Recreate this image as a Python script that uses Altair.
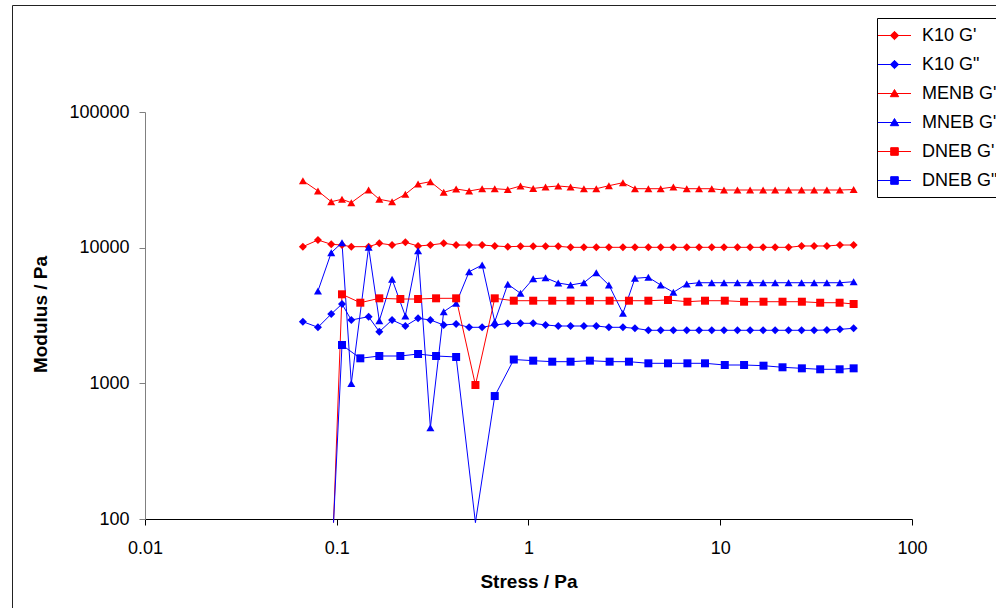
import altair as alt
import pandas as pd

FONT = "Liberation Sans"

series_names = ["K10 G'", 'K10 G"', "MENB G'", 'MNEB G"', "DNEB G'", 'DNEB G"']
series_colors = ["#FF0000", "#0000FF", "#FF0000", "#0000FF", "#FF0000", "#0000FF"]
series_markers = ["diamond", "diamond", "triangle-up", "triangle-up", "square", "square"]

# stress grid shared by K10 and MENB/MNEB runs (Pa)
stress_km = [0.0666, 0.0798, 0.0936, 0.1065, 0.1191, 0.1466, 0.1667, 0.1943, 0.2279, 0.2655,
             0.3078, 0.3612, 0.4194, 0.4902, 0.5731, 0.6668, 0.7798, 0.9084, 1.058, 1.227,
             1.429, 1.657, 1.945, 2.257, 2.626, 3.108, 3.591, 4.218, 4.891, 5.696,
             6.687, 7.751, 9.029, 10.46, 12.29, 14.31, 16.73, 19.33, 22.71, 26.55,
             30.88, 35.98, 42.07, 49.62]

k10_g1 = [10170, 11390, 10590, 10460, 10170, 10170, 10770, 10460, 10950, 10290,
          10460, 10770, 10460, 10460, 10460, 10290, 10170, 10230, 10230, 10230,
          10230, 10060, 10060, 10060, 10060, 10060, 10060, 10060, 10060, 10060,
          10060, 10060, 10060, 10060, 10060, 10060, 10060, 10060, 10060, 10290,
          10290, 10290, 10460, 10460]

k10_g2 = [2847, 2588, 3243, 3843, 2930, 3098, 2402, 2930, 2646, 3016,
          2930, 2692, 2737, 2588, 2588, 2692, 2760, 2770, 2770, 2692,
          2646, 2646, 2646, 2646, 2588, 2588, 2545, 2460, 2460, 2460,
          2460, 2460, 2460, 2460, 2460, 2460, 2460, 2460, 2460, 2460,
          2460, 2473, 2500, 2545]

menb_g1 = [31160, 26170, 21820, 22730, 21450, 26610, 22730, 21820, 24740, 29460,
           30640, 25590, 27060, 26170, 27200, 27200, 26800, 28480, 27330, 28000,
           28480, 28000, 27200, 27200, 28620, 30120, 27200, 27200, 27200, 28000,
           27200, 27200, 27200, 26610, 26610, 26610, 26610, 26610, 26610, 26610,
           26610, 26610, 26610, 26800]

mneb_g2 = [None, 4793, 9183, 10880, 997, 10060, 2894, 5846, 3135, 9498,
           471, 3373, 3890, 6650, 7451, 2847, 5379, 4608, 5896, 5996,
           5489, 5305, 5516, 6537, 5305, 3283, 5946, 6047, 5305, 4688,
           5398, 5516, 5516, 5516, 5516, 5516, 5516, 5516, 5516, 5516,
           5516, 5516, 5516, 5611]

# stress grid of the DNEB run (Pa)
stress_d = [0.0962, 0.1065, 0.1327, 0.1667, 0.2146, 0.2655, 0.3296, 0.4194, 0.5287, 0.6668,
            0.8380, 1.058, 1.330, 1.657, 2.090, 2.649, 3.341, 4.218, 5.339, 6.742,
            8.329, 10.56, 13.31, 16.81, 21.12, 26.65, 33.20, 41.93, 49.62]

# 94 = off-scale readings below the axis minimum
dneb_g1 = [94, 4531, 3929, 4233, 4183, 4183, 4233, 4233, 972, 4233,
           4065, 4065, 4065, 4065, 4065, 4065, 4065, 4065, 4114, 3996,
           4065, 4065, 3996, 3996, 3996, 3996, 3929, 3929, 3843]

dneb_g2 = [94, 1917, 1529, 1590, 1590, 1645, 1590, 1564, 94, 806,
           1498, 1469, 1444, 1444, 1469, 1444, 1444, 1405, 1405, 1405,
           1405, 1365, 1365, 1349, 1313, 1290, 1269, 1269, 1290]

series_x = [stress_km, stress_km, stress_km, stress_km, stress_d, stress_d]
series_y = [k10_g1, k10_g2, menb_g1, mneb_g2, dneb_g1, dneb_g2]

rows = []
for name, col, marker, xs, ys in zip(series_names, series_colors, series_markers, series_x, series_y):
    for xv, yv in zip(xs, ys):
        if yv is not None:
            rows.append({"series": name, "col": col, "marker": marker, "stress": xv, "modulus": yv})
df = pd.DataFrame(rows)

# legend symbols: a short line with the marker on it (custom SVG paths)
LINE = "M-1.65,0H1.65"
legend_paths = {
    "diamond": LINE + "M-0.42,0L0,-0.42L0.42,0L0,0.42Z",
    "triangle-up": LINE + "M0,-0.4L-0.42,0.32L0.42,0.32Z",
    "square": LINE + "M-0.38,-0.38H0.38V0.38H-0.38Z",
}
legend_shapes = [legend_paths[m] for m in series_markers]

W, H = 767, 407
PAD = {"left": 145, "top": 112, "right": 84, "bottom": 89}

x_enc = alt.X(
    "stress:Q",
    scale=alt.Scale(type="log", domain=[0.01, 100], nice=False),
    axis=alt.Axis(
        values=[0.01, 0.1, 1, 10, 100], format="~g", grid=False,
        domainColor="black", tickColor="black", tickSize=6, domainWidth=1, tickWidth=1,
        labelFont=FONT, labelFontSize=18, labelColor="black", labelPadding=14,
        labelFlush=False, labelOverlap=False,
        title="Stress / Pa", titleFont=FONT, titleFontSize=19, titleFontWeight="bold",
        titleColor="black", titleBaseline="alphabetic", titleY=68.5,
    ),
)
y_enc = alt.Y(
    "modulus:Q",
    scale=alt.Scale(type="log", domain=[100, 100000], nice=False),
    axis=alt.Axis(
        values=[100, 1000, 10000, 100000], format="~g", grid=False,
        domainColor="#808080", tickColor="#808080", tickSize=6, domainWidth=1, tickWidth=1,
        labelFont=FONT, labelFontSize=18, labelColor="black", labelPadding=10,
        labelFlush=False, labelOverlap=False,
        title="Modulus / Pa", titleFont=FONT, titleFontSize=19, titleFontWeight="bold",
        titleColor="black", titleAngle=270, titleBaseline="alphabetic", titleX=-98.5, titleY=202,
    ),
)

frame = alt.Chart(alt.Data(values=[{"k": 1}])).mark_rect(
    filled=False, stroke="#222222", strokeWidth=1
).encode(
    x=alt.value(-132.5), x2=alt.value(W + 200),
    y=alt.value(-106.5), y2=alt.value(H + 200),
)

lines = alt.Chart(df).mark_line(strokeWidth=1).encode(
    x=x_enc, y=y_enc,
    color=alt.Color("col:N", scale=None),
    detail="series:N",
    order=alt.Order("stress:Q"),
)

point_layers = []
for m in ["diamond", "triangle-up", "square"]:
    point_layers.append(
        alt.Chart(df).transform_filter(
            f"datum.marker == '{m}' && datum.modulus >= 100"
        ).mark_point(filled=True, opacity=1, size=64, shape=m, strokeWidth=0).encode(
            x=x_enc, y=y_enc,
            color=alt.Color("col:N", scale=None),
        )
    )

leg = alt.Legend(
    title=None, orient="none", legendX=732, legendY=-94,
    labelFont=FONT, labelFontSize=18, labelColor="black", labelOffset=17, labelLimit=0,
    labelExpr="datum.label + '\u00a0\u00a0\u00a0'",
    symbolSize=400, symbolStrokeWidth=1, rowPadding=9, padding=7,
    strokeColor="black", fillColor="white",
)

legend_layer = alt.Chart(df).transform_filter("datum.modulus < 0").mark_point(
    filled=True, opacity=1, strokeWidth=1
).encode(
    x=x_enc, y=y_enc,
    fill=alt.Fill("series:N", scale=alt.Scale(domain=series_names, range=series_colors), legend=leg),
    stroke=alt.Stroke("series:N", scale=alt.Scale(domain=series_names, range=series_colors), legend=leg),
    shape=alt.Shape("series:N", scale=alt.Scale(domain=series_names, range=legend_shapes), legend=leg),
)

chart = alt.layer(frame, lines, *point_layers, legend_layer).properties(
    width=W, height=H,
    autosize=alt.AutoSizeParams(type="none"),
    padding=PAD,
    background="white",
).configure_view(stroke="transparent")

chart.save("out.html", embed_options={"renderer": "svg", "actions": False})
